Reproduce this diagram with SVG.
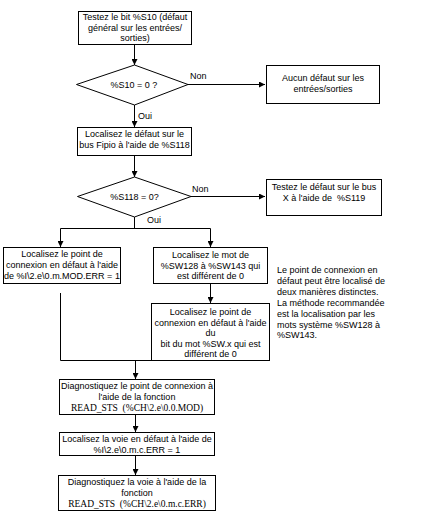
<svg xmlns="http://www.w3.org/2000/svg" width="440" height="512" viewBox="0 0 440 512">
<style>
.b{fill:#fff;stroke:#000;stroke-width:1}
.t{font-family:"Liberation Sans",Arial,sans-serif;font-size:9px;fill:#000;text-anchor:middle;white-space:pre}
.l{font-family:"Liberation Sans",Arial,sans-serif;font-size:9px;fill:#000;white-space:pre}
.s{font-family:"Liberation Serif","Times New Roman",serif;font-size:9.5px;fill:#000;text-anchor:middle;white-space:pre}
.c{fill:none;stroke:#000;stroke-width:1}
</style>
<defs>
<marker id="ah" markerUnits="userSpaceOnUse" markerWidth="6" markerHeight="6" refX="6" refY="3" orient="auto">
<path d="M0,0 L6,3 L0,6 z" fill="#000"/>
</marker>
</defs>
<rect width="440" height="512" fill="#fff"/>
<g id="connectors">
<path class="c" d="M134.5,44 V65" marker-end="url(#ah)"/>
<path class="c" d="M188,84.5 H265" marker-end="url(#ah)"/>
<path class="c" d="M134.5,105 V127" marker-end="url(#ah)"/>
<path class="c" d="M134.5,155 V177" marker-end="url(#ah)"/>
<path class="c" d="M191,196.5 H265" marker-end="url(#ah)"/>
<path class="c" d="M134.5,217 V228.5"/>
<path class="c" d="M60.5,228.5 H210.5"/>
<path class="c" d="M60.5,228.5 V247" marker-end="url(#ah)"/>
<path class="c" d="M210.5,228.5 V247" marker-end="url(#ah)"/>
<path class="c" d="M210.5,284 V303" marker-end="url(#ah)"/>
<path class="c" d="M60.5,293 V360.5 H212"/>
<path class="c" d="M135.5,360.5 V379" marker-end="url(#ah)"/>
<path class="c" d="M135.5,414 V432" marker-end="url(#ah)"/>
<path class="c" d="M135.5,455 V475" marker-end="url(#ah)"/>
</g>
<g id="labels">
<text class="l" x="190" y="79">Non</text>
<text class="l" x="138" y="119">Oui</text>
<text class="l" x="192" y="192">Non</text>
<text class="l" x="147" y="223">Oui</text>
</g>
<g id="n1">
<rect class="b" x="78.5" y="11.5" width="113" height="33"/>
<text class="t" x="135" y="20">Testez le bit %S10 (défaut</text>
<text class="t" x="135" y="30.5">général sur les entrées/</text>
<text class="t" x="135" y="41">sorties)</text>
</g>
<g id="d1">
<polygon class="b" points="76.5,84.5 134.5,65 188,84.5 134.5,105"/>
<text class="t" x="134" y="87.5">%S10 = 0 ?</text>
</g>
<g id="n2">
<rect class="b" x="266.5" y="65.5" width="113" height="38"/>
<text class="t" x="323" y="81">Aucun défaut sur les</text>
<text class="t" x="323" y="92">entrées/sorties</text>
</g>
<g id="n3">
<rect class="b" x="77.5" y="127.5" width="114" height="28"/>
<text class="t" x="134.5" y="137">Localisez le défaut sur le</text>
<text class="t" x="134.5" y="148">bus Fipio à l'aide de %S118</text>
</g>
<g id="d2">
<polygon class="b" points="77.5,196.5 134.5,177 191,196.5 134.5,217"/>
<text class="t" x="134.5" y="199.5">%S118 = 0?</text>
</g>
<g id="n4">
<rect class="b" x="266.5" y="179.5" width="115" height="36"/>
<text class="t" x="324" y="190">Testez le défaut sur le bus</text>
<text class="t" x="324" y="201">X à l'aide de  %S119</text>
</g>
<g id="n5">
<rect class="b" x="3.5" y="247.5" width="117" height="36"/>
<text class="t" x="62" y="257">Localisez le point de</text>
<text class="t" x="62" y="268">connexion en défaut à l'aide</text>
<text class="t" x="62" y="279">de %I\2.e\0.m.MOD.ERR = 1</text>
</g>
<g id="n6">
<rect class="b" x="153.5" y="247.5" width="114" height="36"/>
<text class="t" x="210.5" y="258">Localisez le mot de</text>
<text class="t" x="210.5" y="268.5">%SW128 à %SW143 qui</text>
<text class="t" x="210.5" y="279">est différent de 0</text>
</g>
<g id="n7">
<rect class="b" x="151.5" y="303.5" width="118" height="57"/>
<text class="t" x="210.5" y="315">Localisez le point de</text>
<text class="t" x="210.5" y="325.5">connexion en défaut à l'aide</text>
<text class="t" x="210.5" y="336">du</text>
<text class="t" x="210.5" y="346.5">bit du mot %SW.x qui est</text>
<text class="t" x="210.5" y="357">différent de 0</text>
</g>
<g id="note">
<text class="l" x="277" y="273">Le point de connexion en</text>
<text class="l" x="277" y="284">défaut peut être localisé de</text>
<text class="l" x="277" y="295">deux manières distinctes.</text>
<text class="l" x="277" y="306">La méthode recommandée</text>
<text class="l" x="277" y="317">est la localisation par les</text>
<text class="l" x="277" y="327.5">mots système %SW128 à</text>
<text class="l" x="277" y="338">%SW143.</text>
</g>
<g id="n8">
<rect class="b" x="59.5" y="379.5" width="155" height="35"/>
<text class="t" x="137" y="389">Diagnostiquez le point de connexion à</text>
<text class="t" x="137" y="400">l'aide de la fonction</text>
<text class="s" x="137" y="411">READ_STS  (%CH\2.e\0.0.MOD)</text>
</g>
<g id="n9">
<rect class="b" x="59.5" y="432.5" width="155" height="23"/>
<text class="t" x="137" y="442">Localisez la voie en défaut à l'aide de</text>
<text class="t" x="137" y="452.5">%I\2.e\0.m.c.ERR = 1</text>
</g>
<g id="n10">
<rect class="b" x="58.5" y="475.5" width="157" height="35"/>
<text class="t" x="137" y="484.5">Diagnostiquez la voie à l'aide de la</text>
<text class="t" x="137" y="495.5">fonction</text>
<text class="s" x="137" y="506.5">READ_STS  (%CH\2.e\0.m.c.ERR)</text>
</g>
</svg>
